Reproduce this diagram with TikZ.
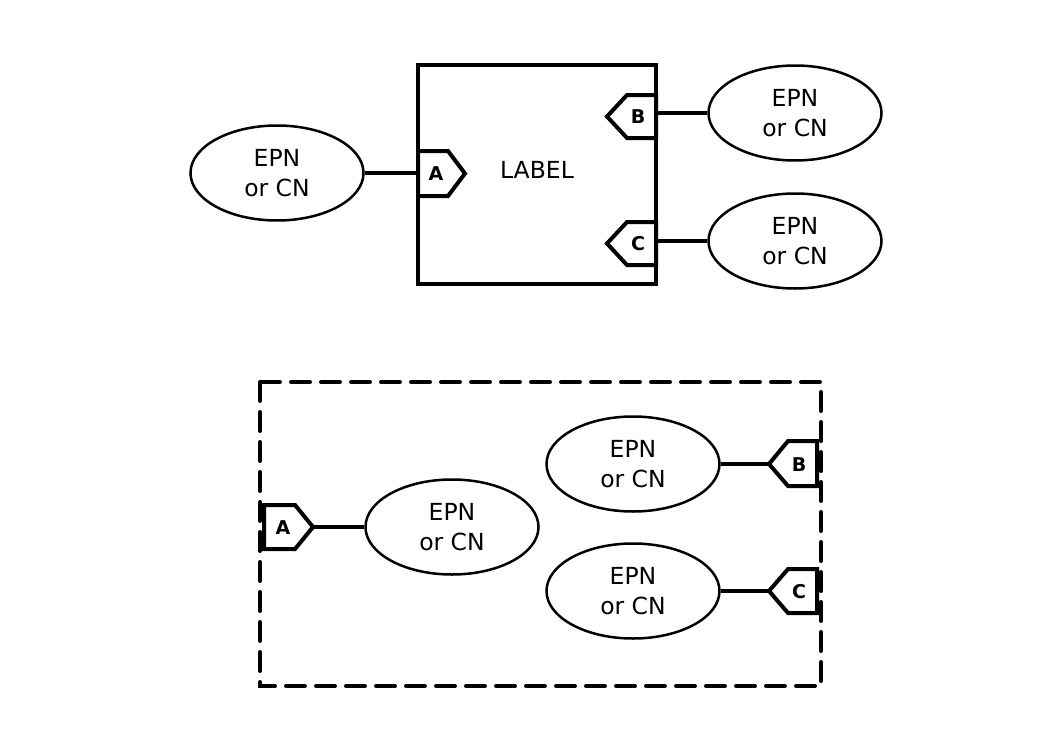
\documentclass[tikz,border=0pt]{standalone}
\usepackage{fontspec}
\setmainfont{DejaVu Sans}
\usetikzlibrary{shapes.geometric}
\begin{document}
\begin{tikzpicture}[x=1pt,y=-1pt,
  epn/.style={draw, line width=2.5pt, ellipse, minimum width=173pt, minimum height=95pt, inner sep=0pt, align=center, font=\fontsize{23.5}{29.5}\selectfont},
  wall/.style={line width=4pt},
  portshape/.style={line width=4pt, fill=white, line join=miter},
  portlbl/.style={inner sep=0pt, font=\fontsize{19}{22}\selectfont\bfseries},
  link/.style={line width=4pt},
  dashwall/.style={line width=4pt, dash pattern=on 19pt off 11pt, line cap=round}]
\useasboundingbox (0,0) rectangle (1052,744);
% top compartment
\draw[wall] (418,65) rectangle (656,284);
\node[font=\fontsize{23.5}{28}\selectfont] (lbl) at (537,170) {LABEL};
% ports top
\draw[portshape] (418,151) -- (448,151) -- (465,173.5) -- (448,196) -- (418,196) -- cycle;
\coordinate (pA) at (418,173);
\node[portlbl] (lA) at (436,174) {A};
\draw[portshape] (656,95) -- (627,95) -- (607,116.5) -- (627,138) -- (656,138) -- cycle;
\coordinate (pB) at (656,113);
\node[portlbl] (lB) at (638,117) {B};
\draw[portshape] (656,222) -- (627,222) -- (607,243.5) -- (627,265) -- (656,265) -- cycle;
\coordinate (pC) at (656,241);
\node[portlbl] (lC) at (638,244) {C};
\node[epn] (e1) at (277,173) {EPN\\or CN};
\node[epn] (e2) at (795,113) {EPN\\or CN};
\node[epn] (e3) at (795,241) {EPN\\or CN};
\draw[link] (e1.east) -- (e1.east -| pA);
\draw[link] (pB) -- (pB -| e2.west);
\draw[link] (pC) -- (pC -| e3.west);
% bottom compartment
\draw[dashwall] (260,382) rectangle (821,686);
\draw[portshape] (264,505) -- (295,505) -- (313,527) -- (295,549) -- (264,549) -- cycle;
\coordinate (qA) at (313,527);
\node[portlbl] (mA) at (283,528) {A};
\draw[portshape] (817,441) -- (788,441) -- (769,464) -- (788,486) -- (817,486) -- cycle;
\coordinate (qB) at (769,464);
\node[portlbl] (mB) at (799,465) {B};
\draw[portshape] (817,569) -- (788,569) -- (769,591) -- (788,613) -- (817,613) -- cycle;
\coordinate (qC) at (769,591);
\node[portlbl] (mC) at (799,592) {C};
\node[epn] (f1) at (452,527) {EPN\\or CN};
\node[epn] (f2) at (633,464) {EPN\\or CN};
\node[epn] (f3) at (633,591) {EPN\\or CN};
\draw[link] (qA) -- (qA -| f1.west);
\draw[link] (f2.east) -- (f2.east -| qB);
\draw[link] (f3.east) -- (f3.east -| qC);
\end{tikzpicture}
\end{document}
